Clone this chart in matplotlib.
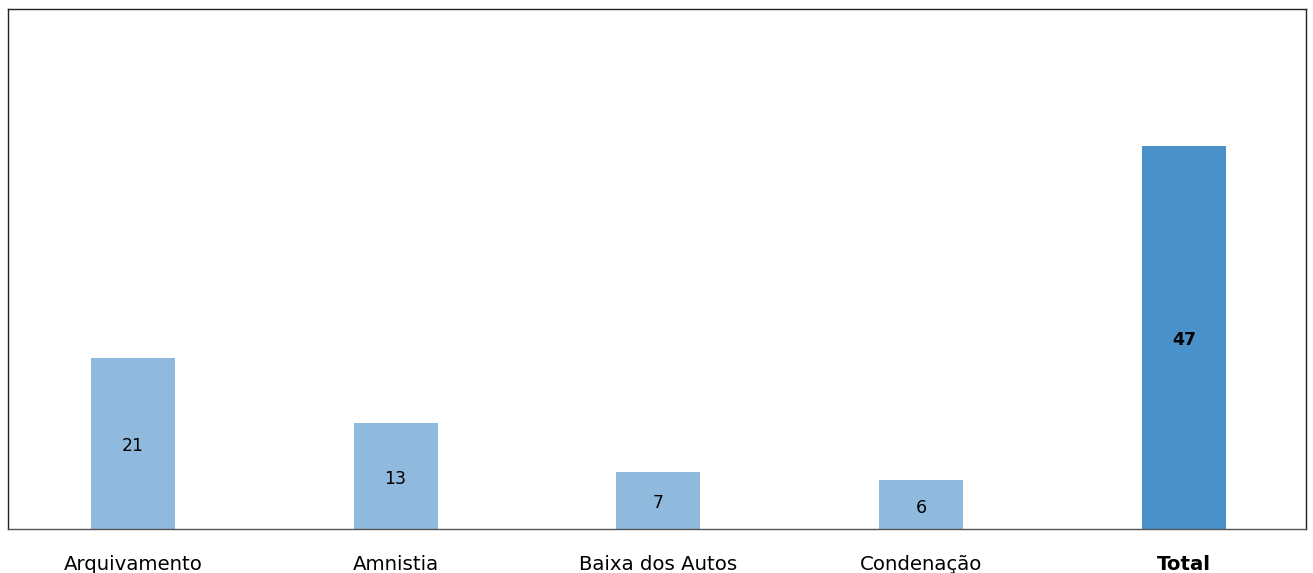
import matplotlib
matplotlib.use("Agg")
import matplotlib.pyplot as plt
from matplotlib.transforms import offset_copy

# data
categories = ["Arquivamento", "Amnistia", "Baixa dos Autos", "Condenação", "Total"]
values = [21, 13, 7, 6, 47]
colors = ["#8fb9dd", "#8fb9dd", "#8fb9dd", "#8fb9dd", "#4a90c9"]

plt.rcParams['font.family'] = ['DejaVu Sans']

fig = plt.figure(figsize=(13.13, 5.73), dpi=100)
ax = fig.add_axes([8 / 1313, 44 / 573, 1298 / 1313, 520 / 573])

x = range(len(categories))
bars = ax.bar(x, values, width=0.32, color=colors)

# value labels in middle of bars, nudged down a bit
trans = offset_copy(ax.transData, fig=fig, x=0, y=-3, units="dots")
for i, (b, v) in enumerate(zip(bars, values)):
    bold = categories[i] == "Total"
    ax.text(b.get_x() + b.get_width() / 2, v / 2, str(v), ha="center", va="center",
            fontsize=12.5, color="black", fontweight="bold" if bold else "normal",
            transform=trans)

ax.set_xlim(-0.475, 4.465)
ax.set_ylim(0, 63.8)
ax.set_xticks(list(x))
ax.set_xticklabels(categories, fontsize=14.2)
ax.get_xticklabels()[-1].set_fontweight("bold")
ax.tick_params(axis="x", length=0, pad=19)
ax.set_yticks([])
for s in ax.spines.values():
    s.set_color("#222222")
    s.set_linewidth(1.0)
ax.spines["bottom"].set_color("#555555")

fig.savefig("out.png", dpi=100)
